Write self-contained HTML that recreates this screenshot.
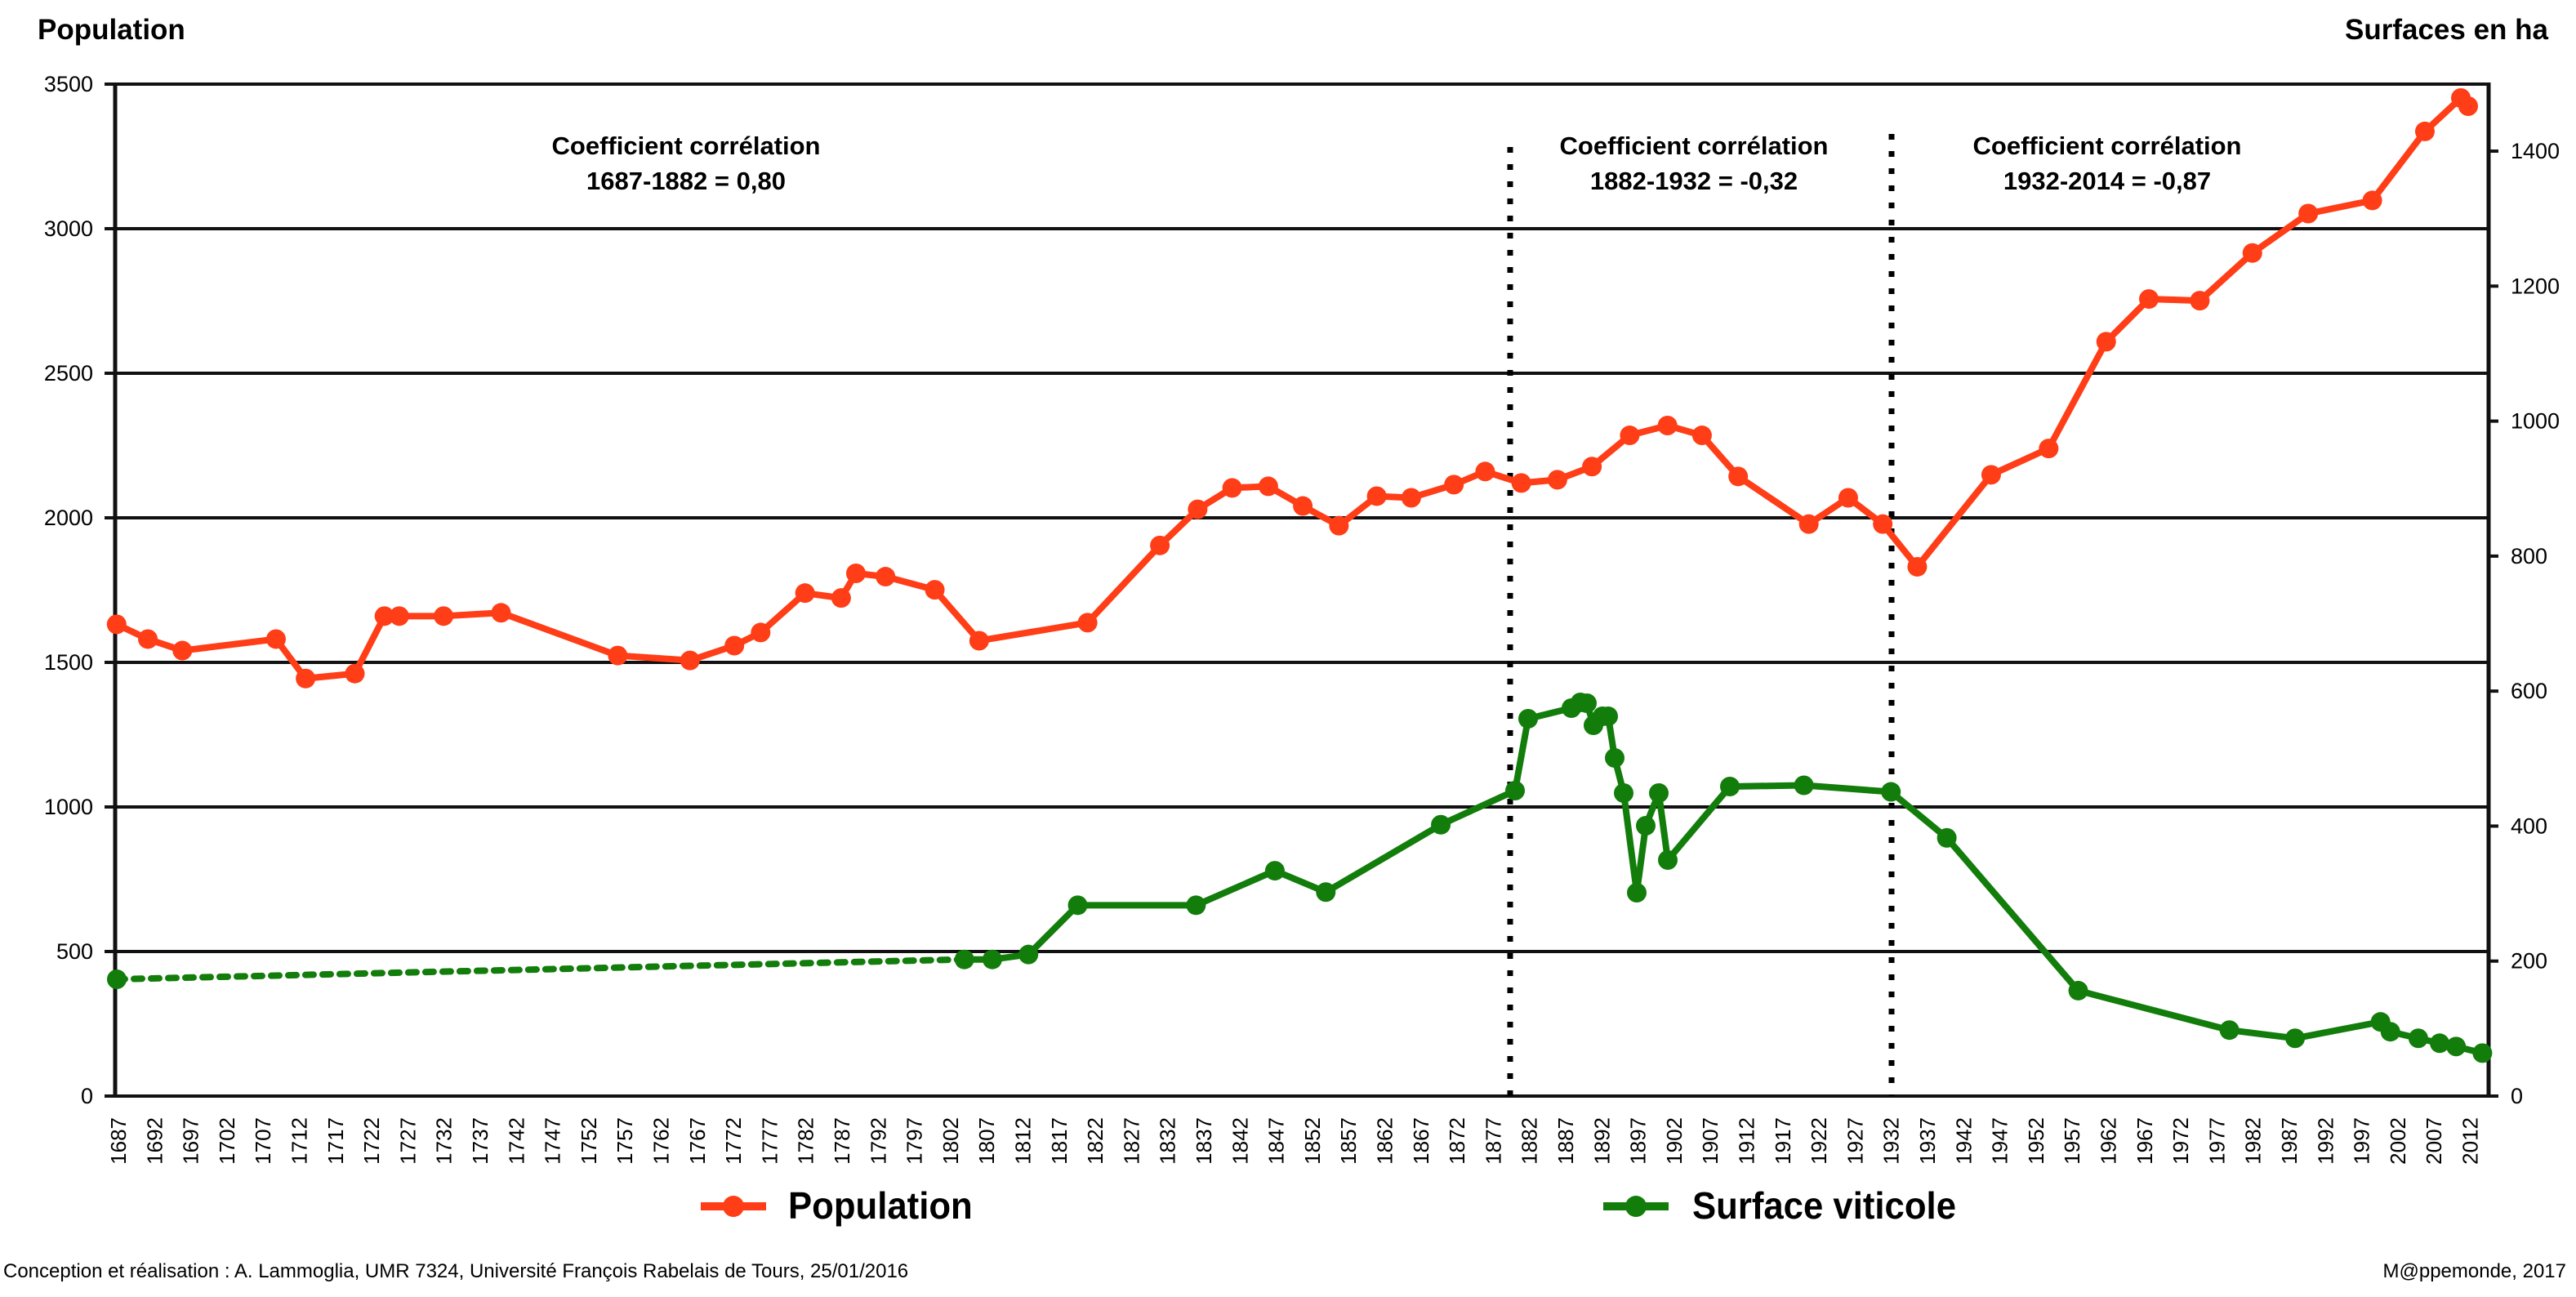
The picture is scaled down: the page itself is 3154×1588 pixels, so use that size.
<!DOCTYPE html>
<html><head><meta charset="utf-8"><style>
html,body{margin:0;padding:0;background:#fff}
svg{display:block}
text{font-family:"Liberation Sans",sans-serif;fill:#000}
</style></head><body>
<svg id="s" width="3154" height="1588" viewBox="0 0 3154 1588" xmlns="http://www.w3.org/2000/svg">
<text x="46" y="48" font-size="35" font-weight="bold">Population</text>
<text x="3120" y="48" font-size="35" font-weight="bold" text-anchor="end">Surfaces en ha</text>
<g id="grid"></g>
<line x1="141" y1="101" x2="141" y2="1344" stroke="#111" stroke-width="5"/>
<line x1="3047" y1="101" x2="3047" y2="1344" stroke="#111" stroke-width="5"/>
<g font-size="31" font-weight="bold" text-anchor="middle">
<text x="840" y="189">Coefficient corrélation</text>
<text x="840" y="232">1687-1882  = 0,80</text>
<text x="2074" y="189">Coefficient corrélation</text>
<text x="2074" y="232">1882-1932  = -0,32</text>
<text x="2580" y="189">Coefficient corrélation</text>
<text x="2580" y="232">1932-2014  = -0,87</text>
</g>
<line x1="1849" y1="180" x2="1849" y2="1342" stroke="#000" stroke-width="7" stroke-dasharray="7 14"/>
<line x1="2316" y1="164" x2="2316" y2="1342" stroke="#000" stroke-width="7" stroke-dasharray="7 14"/>
<g id="series"></g>
<g id="xt" font-size="26"></g>
<line x1="858" y1="1477" x2="938" y2="1477" stroke="#ff3d17" stroke-width="10"/>
<circle cx="898" cy="1477" r="13" fill="#ff3d17"/>
<text x="965" y="1492" font-size="46" font-weight="bold" transform="translate(965 0) scale(0.95 1) translate(-965 0)">Population</text>
<line x1="1963" y1="1477" x2="2043" y2="1477" stroke="#127d0b" stroke-width="10"/>
<circle cx="2003" cy="1477" r="13" fill="#127d0b"/>
<text x="2072" y="1492" font-size="46" font-weight="bold" transform="translate(2072 0) scale(0.95 1) translate(-2072 0)">Surface viticole</text>
<text x="4" y="1564" font-size="24">Conception et réalisation : A. Lammoglia, UMR 7324, Université François Rabelais de Tours, 25/01/2016</text>
<text x="3142" y="1564" font-size="24" text-anchor="end">M@ppemonde, 2017</text>
</svg>
<script>
var NS="http://www.w3.org/2000/svg";
function el(p,n,a,t){var e=document.createElementNS(NS,n);for(var k in a)e.setAttribute(k,a[k]);if(t!=null)e.textContent=t;p.appendChild(e);return e;}
var g=document.getElementById('grid');
for(var i=0;i<=7;i++){var y=1342-i*177;
el(g,'line',{x1:128,y1:y,x2:3047,y2:y,stroke:'#111','stroke-width':4});
el(g,'text',{x:114,y:y+9,'font-size':27,'text-anchor':'end'},String(i*500));}
for(var v=0;v<=1400;v+=200){var y=1342-v*0.8264;
el(g,'line',{x1:3047,y1:y,x2:3059,y2:y,stroke:'#111','stroke-width':4});
el(g,'text',{x:3074,y:y+9,'font-size':27},String(v));}
var xt=document.getElementById('xt');
for(var j=0;j<66;j++){var yr=1687+5*j;var x=145+j*44.3;
el(xt,'text',{x:0,y:0,'text-anchor':'end',transform:'translate('+(x+9)+' 1368) rotate(-90)'},String(yr));}
var S=2.0115;
var pop=[[71,380],[90,389],[111,396],[168,389],[186,413],[216,410],[234,375],[243,375],[270,375],[305,373],[376,399],[420,402],[447,393],[463,385],[490,361],[512,364],[521,349],[539,351],[569,359],[596,390],[662,379],[706,332],[729,310],[750,297],[772,296],[793,308],[815,320],[838,302],[859,303],[885,295],[904,287],[926,294],[948,292],[969,284],[992,265],[1015,259],[1036,265],[1058,290],[1101,319],[1125,303],[1146,319],[1167,345],[1212,289],[1247,273],[1282,208],[1308,182],[1339,183],[1371,154],[1405,130],[1444,122],[1476,80]].map(function(p){return [p[0]*S,p[1]*S];});
pop.push([3013,120],[3022,130]);
var grA=[[587,584],[604,584],[626,581],[656,551],[728,551],[776,530],[807,543],[877,502]].map(function(p){return [p[0]*S,p[1]*S];});
var grB=[[1855,968],[1871,880],[1924,867],[1935,860],[1943,861],[1951,888],[1962,877],[1969,877],[1977,928],[1988,971],[2004,1093],[2015,1011],[2031,971],[2042,1053],[2118,963]];
var grC=[[1098,478],[1151,482],[1185,510],[1265,603],[1357,627],[1397,632],[1449,622],[1455,628],[1472,632],[1485,635],[1495,637],[1511,641]].map(function(p){return [p[0]*S,p[1]*S];});
var gr=grA.concat(grB,grC);
var sg=document.getElementById('series');
function draw(pts,c){el(sg,'polyline',{points:pts.map(function(p){return p.join(',')}).join(' '),fill:'none',stroke:c,'stroke-width':8,'stroke-linejoin':'round'});
pts.forEach(function(p){el(sg,'circle',{cx:p[0],cy:p[1],r:12,fill:c});});}
el(sg,'line',{x1:143,y1:1199,x2:grA[0][0],y2:grA[0][1],stroke:'#127d0b','stroke-width':8,'stroke-dasharray':'10 11','stroke-linecap':'round'});
el(sg,'circle',{cx:143,cy:1199,r:12,fill:'#127d0b'});
draw(gr,'#127d0b');
draw(pop,'#ff3d17');
</script>
</body></html>
